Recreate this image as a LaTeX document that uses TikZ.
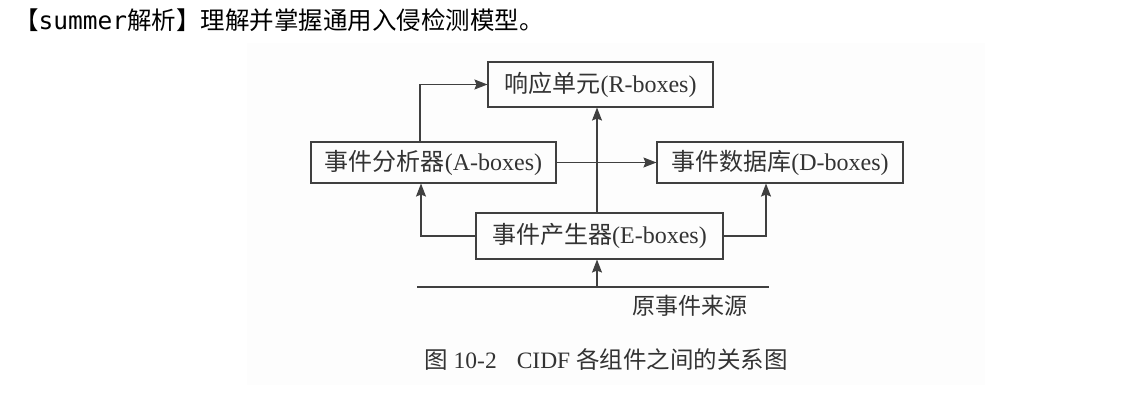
\documentclass[tikz,border=0pt]{standalone}
\usepackage{fontspec}
\setmainfont{Liberation Serif}
\newfontfamily\cjk{Noto Sans CJK SC}
\newfontfamily\mono{DejaVu Sans Mono}
\usetikzlibrary{arrows.meta}
\definecolor{ink}{HTML}{404040}
\definecolor{txt}{HTML}{333333}
\tikzset{
  box/.style={draw=ink, line width=1.1pt, inner sep=0pt, text=txt,
    font=\fontsize{24}{24}\selectfont},
  arr/.style={draw=ink, line width=1.1pt, -{Stealth[length=13pt,width=10pt,inset=2pt]}},
  plain/.style={draw=ink, line width=1.1pt},
}
\begin{document}
\begin{tikzpicture}[x=1pt,y=-1pt]
\useasboundingbox (0,0) rectangle (1121,411);
\fill[black!0.8] (247,43) rectangle (985,385);
\node[anchor=west, font=\fontsize{24.5}{25}\selectfont, inner sep=0pt] (title) at (14,20)
  {{\cjk 【}{\mono summer}{\cjk 解析】理解并掌握通用入侵检测模型。}};
\node[box, minimum width=225pt, minimum height=45pt] (R) at (600.5,84.5) {{\cjk 响应单元}(R-boxes)};
\node[box, minimum width=245pt, minimum height=41pt] (A) at (433.5,162.5) {{\cjk 事件分析器}(A-boxes)};
\node[box, minimum width=246pt, minimum height=41pt] (D) at (780,162.5) {{\cjk 事件数据库}(D-boxes)};
\node[box, minimum width=247pt, minimum height=46pt] (E) at (599.5,236) {{\cjk 事件产生器}(E-boxes)};
\coordinate (s1) at (417,287);
\coordinate (s2) at (769,287);
\coordinate (sm) at (597,287);
\draw[plain] (s1) -- (s2);
\node[text=txt, font=\fontsize{23}{23}\selectfont\cjk, inner sep=0pt] (src) at (690,306) {原事件来源};
\draw[arr] (sm) -- (sm |- E.south);
\draw[arr] ([xshift=-2.5pt]E.north) -- ([xshift=-3.5pt]R.south);
\draw[arr] ([xshift=-13.5pt]A.north) |- (R.west);
\draw[arr] (A.east) -- (D.west);
\draw[arr] (E.west) -| ([xshift=-12.5pt]A.south);
\draw[arr] (E.east) -| ([xshift=-14pt]D.south);
\node[text=txt, font=\fontsize{23.5}{24}\selectfont, inner sep=0pt] (cap) at (606,360)
  {{\cjk 图} 10-2\hspace{20pt}CIDF {\cjk 各组件之间的关系图}};
\end{tikzpicture}
\end{document}
